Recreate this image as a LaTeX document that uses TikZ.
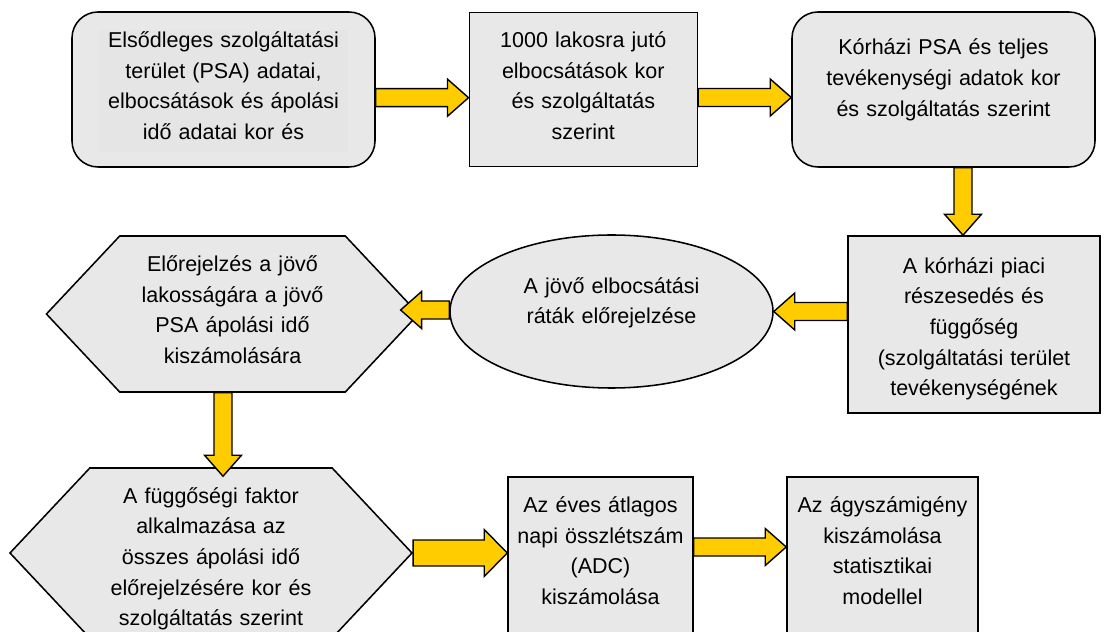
\documentclass[tikz,border=0pt]{standalone}
\usepackage{fontspec}
\setmainfont{Liberation Sans}
\usetikzlibrary{calc,shapes.geometric,shapes.symbols}

\definecolor{boxgray}{HTML}{E8E8E8}
\definecolor{innergray}{HTML}{E5E5E5}
\definecolor{arrowyellow}{HTML}{FFCC00}

% sizes of the fat block arrows
\tikzset{
  fat shaft/.initial=0.225cm,
  fat head/.initial=0.4625cm,
  fat len/.initial=0.525cm,
}
\newcommand{\fatS}{\pgfkeysvalueof{/tikz/fat shaft}}
\newcommand{\fatH}{\pgfkeysvalueof{/tikz/fat head}}
\newcommand{\fatL}{\pgfkeysvalueof{/tikz/fat len}}

\tikzset{
  fatarrow/.style={draw=black, fill=arrowyellow, line width=1pt, line join=miter},
  fath/.style={fatarrow, to path={
    ($(\tikztostart |- \tikztotarget)+(0,\fatS)$) -- ($(\tikztotarget)+(#1,\fatS)$)
    -- ($(\tikztotarget)+(#1,\fatH)$) -- (\tikztotarget) -- ($(\tikztotarget)+(#1,-\fatH)$)
    -- ($(\tikztotarget)+(#1,-\fatS)$) -- ($(\tikztostart |- \tikztotarget)+(0,-\fatS)$) -- cycle}},
  fatv/.style={fatarrow, to path={
    ($(\tikztostart -| \tikztotarget)+(\fatS,0)$) -- ($(\tikztotarget)+(\fatS,#1)$)
    -- ($(\tikztotarget)+(\fatH,#1)$) -- (\tikztotarget) -- ($(\tikztotarget)+(-\fatH,#1)$)
    -- ($(\tikztotarget)+(-\fatS,#1)$) -- ($(\tikztostart -| \tikztotarget)+(-\fatS,0)$) -- cycle}},
  fatright/.style={fath=-\fatL},
  fatleft/.style={fath=\fatL},
  fatdown/.style={fatv=\fatL},
}

\begin{document}
\begin{tikzpicture}[
    box/.style = {draw, fill=boxgray, line width=1.1pt, align=center, inner sep=2pt,
                  font=\fontsize{15.3}{21.8}\selectfont, text height=11pt},
    rbox/.style = {box, rounded corners=0.65cm},
    oval/.style = {box, ellipse},
    hexa/.style = {box, signal, signal to=west and east, signal pointer angle=93.6}]
    \useasboundingbox (0,0) rectangle (27.65,-15.8);

    % top row
    \node[rbox, minimum width=7.575cm, minimum height=3.875cm, text width=6.25cm, text depth=2.478cm,
          path picture={\fill[innergray, sharp corners] ([shift={(0.65,0.375)}]path picture bounding box.south west)
                        rectangle ([shift={(-0.675,-0.45)}]path picture bounding box.north east);}]
          (n1) at (5.5875,-2.2375) {Elsődleges szolgáltatási\\ terület (PSA) adatai,\\ elbocsátások és ápolási\\ idő adatai kor és};
    \node[box, minimum width=5.7cm, minimum height=3.85cm, text width=5cm, text depth=2.488cm]
          (n2) at (14.5825,-2.2425) {1000 lakosra jutó\\ elbocsátások kor\\ és szolgáltatás\\ szerint};
    \node[rbox, minimum width=7.575cm, minimum height=3.875cm, text width=6.5cm, text depth=2.113cm]
          (n3) at (23.5875,-2.2375) {Kórházi PSA és teljes\\ tevékenységi adatok kor\\ és szolgáltatás szerint};

    % middle row
    \node[box, minimum width=6.3cm, minimum height=4.425cm, text width=5.5cm, text depth=2.948cm]
          (n4) at (24.35,-8.1125) {A kórházi piaci\\ részesedés és\\ függőség\\ (szolgáltatási terület\\ tevékenységének};
    \node[oval, minimum width=8.075cm, minimum height=3.825cm, text width=4.75cm, text depth=1.298cm]
          (ell) at (15.2875,-7.7875) {A jövő elbocsátási\\ ráták előrejelzése};
    \node[hexa, minimum width=8.975cm, minimum height=3.9cm, text width=5.5cm, text depth=2.503cm]
          (hex1) at (5.8125,-7.85) {Előrejelzés a jövő\\ lakosságára a jövő\\ PSA ápolási idő\\ kiszámolására};

    % bottom row
    \node[hexa, minimum width=10.05cm, minimum height=4.25cm, text width=5.75cm, text depth=2.873cm]
          (hex2) at (5.275,-13.825) {A függőségi faktor\\ alkalmazása az\\ összes ápolási idő\\ előrejelzésére kor és\\ szolgáltatás szerint};
    \node[box, minimum width=4.625cm, minimum height=5cm, text width=4.25cm, text depth=3.603cm]
          (n5) at (15.0125,-14.425) {Az éves átlagos\\ napi összlétszám\\ (ADC)\\ kiszámolása};
    \node[box, minimum width=4.775cm, minimum height=5cm, text width=4.25cm, text depth=3.603cm]
          (n6) at (22.0625,-14.425) {Az ágyszámigény\\ kiszámolása\\ statisztikai\\ modellel};

    % block arrows
    \draw[fatright] ([yshift=-0.2cm]n1.east) to ([yshift=-0.2cm]n2.west);
    \draw[fatright] ([yshift=-0.2cm]n2.east) to ([yshift=-0.2cm]n3.west);
    \draw[fatdown] ([xshift=0.5cm]n3.south) to ([xshift=-0.275cm]n4.north);
    \draw[fatleft] (n4.west |- ell.east) to (ell.east);
    \draw[fatleft] (ell.west) to ([xshift=-0.475cm,yshift=0.1cm]hex1.east);
    \draw[fatdown] ([xshift=-0.24cm]hex1.south) to ([xshift=0.3cm,yshift=-0.225cm]hex2.north);
    \draw[fatright, fat shaft=0.325cm, fat head=0.5875cm, fat len=0.575cm] (hex2.east) to (n5.west |- hex2.east);
    \draw[fatright] ([yshift=0.75cm]n5.east) to ([yshift=0.75cm]n6.west);
\end{tikzpicture}
\end{document}
